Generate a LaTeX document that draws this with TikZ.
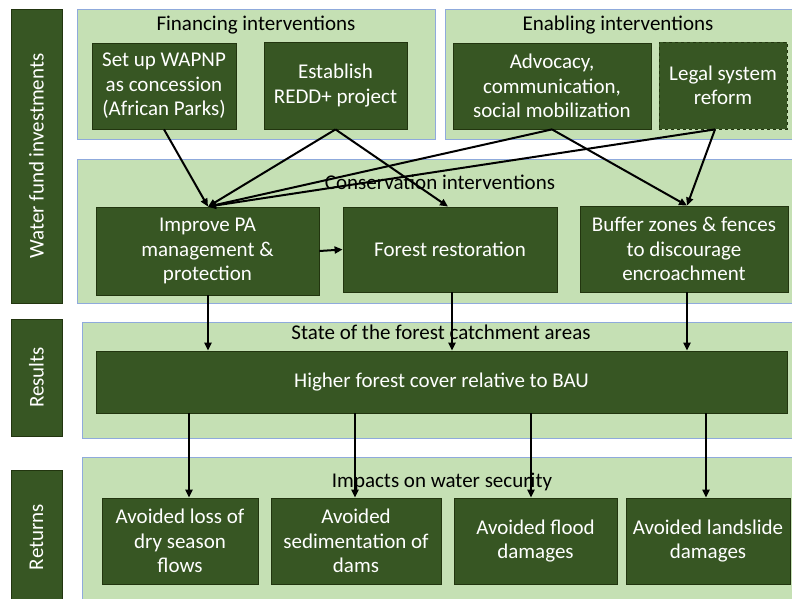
\documentclass[tikz,border=0pt]{standalone}
\usepackage{fontspec}
\setmainfont{Carlito}
\usetikzlibrary{arrows.meta,calc}
\definecolor{dk}{HTML}{375623}
\definecolor{dkb}{HTML}{22350F}
\definecolor{lt}{HTML}{C5E0B4}
\definecolor{ltb}{HTML}{8FAADC}
\tikzset{
  panel/.style={draw=ltb,line width=1pt,fill=lt},
  gbox/.style={draw=dkb,line width=0.8pt,fill=dk,text=white,align=center,font=\fontsize{21}{24.5}\selectfont},
  sidebar/.style={draw=dkb,line width=0.8pt,fill=dk},
  sidetext/.style={text=white,rotate=90,font=\fontsize{21}{24}\selectfont},
  ptitle/.style={text=black,font=\fontsize{21}{24}\selectfont},
  arr/.style={-{Triangle[length=8pt,width=7pt]},line width=2pt,black},
}
\begin{document}
\begin{tikzpicture}[x=1pt,y=-1pt]
\useasboundingbox (0,0) rectangle (792,598);
% side bars
\draw[sidebar] (11,9) rectangle (62,303);
\node[sidetext] (s1) at (36.5,156) {Water fund investments};
\draw[sidebar] (11,319) rectangle (62,436);
\node[sidetext] (s2) at (36.5,377.5) {Results};
\draw[sidebar] (11,470) rectangle (62,610);
\node[sidetext] (s3) at (36.5,537) {Returns};
% panels
\draw[panel] (77,9) rectangle (435,139);
\node[ptitle] (t1) at (256,25) {Financing interventions};
\draw[panel] (445,9) rectangle (800,139);
\node[ptitle] (t2) at (618,25) {Enabling interventions};
\draw[panel] (77,159) rectangle (800,303);
\draw[panel] (82,322) rectangle (800,438);
\draw[panel] (82,457) rectangle (800,610);
% boxes
\node[gbox,minimum width=144pt,minimum height=86pt] (wap) at (164,86) {Set up WAPNP\\as concession\\(African Parks)};
\node[gbox,minimum width=143pt,minimum height=87pt] (redd) at (335.5,85.5) {Establish\\REDD+ project};
\node[gbox,minimum width=198pt,minimum height=86pt] (adv) at (552,86) {Advocacy,\\communication,\\social mobilization};
\node[gbox,dashed,minimum width=128pt,minimum height=87pt] (leg) at (723,85.5) {Legal system\\reform};
\node[ptitle] (t3) at (440,182) {Conservation interventions};
\node[gbox,minimum width=223pt,minimum height=88pt] (ipa) at (207.5,251) {Improve PA\\management \&\\protection};
\node[gbox,minimum width=214pt,minimum height=85pt] (fr) at (450,249.5) {Forest restoration};
\node[gbox,minimum width=208pt,minimum height=86pt] (buf) at (684,249) {Buffer zones \& fences\\to discourage\\encroachment};
\node[ptitle] (t4) at (441,332) {State of the forest catchment areas};
\node[gbox,minimum width=691pt,minimum height=62pt] (hfc) at (441.5,382) {Higher forest cover relative to BAU};
\node[ptitle] (t5) at (442,482) {Impacts on water security};
\node[gbox,minimum width=156pt,minimum height=86pt] (b1) at (180,541) {Avoided loss of\\dry season\\flows};
\node[gbox,minimum width=170pt,minimum height=86pt] (b2) at (356,541) {Avoided\\sedimentation of\\dams};
\node[gbox,minimum width=163pt,minimum height=86pt] (b3) at (535.5,541) {Avoided flood\\damages};
\node[gbox,minimum width=164pt,minimum height=86pt] (b4) at (708,541) {Avoided landslide\\damages};
% arrows top
\coordinate (ipaT) at ($(ipa.north)+(0.5,0)$);
\coordinate (frT) at ($(fr.north)+(-2,0)$);
\coordinate (bufT) at ($(buf.north)+(3,0)$);
\coordinate (advB) at ($(adv.south)+(0,0)$);
\coordinate (legB) at ($(leg.south)+(-8,0)$);
\draw[arr] (wap.south) -- (ipaT);
\draw[arr] (redd.south) -- (ipaT);
\draw[arr] (redd.south) -- (frT);
\draw[arr] (advB) -- (ipaT);
\draw[arr] (legB) -- (ipaT);
\draw[arr] (advB) -- (bufT);
\draw[arr] (legB) -- (bufT);
\draw[arr] (ipa.east) -- (fr.west);
% arrows middle
\draw[arr] (ipa.south -| 208,0) -- (hfc.north -| 208,0);
\draw[arr] (fr.south -| 452,0) -- (hfc.north -| 452,0);
\draw[arr] (buf.south -| 687,0) -- (hfc.north -| 687,0);
% arrows bottom
\draw[arr] (hfc.south -| 189,0) -- (b1.north -| 189,0);
\draw[arr] (hfc.south -| 355,0) -- (b2.north -| 355,0);
\draw[arr] (hfc.south -| 531,0) -- (b3.north -| 531,0);
\draw[arr] (hfc.south -| 706,0) -- (b4.north -| 706,0);
\end{tikzpicture}
\end{document}
